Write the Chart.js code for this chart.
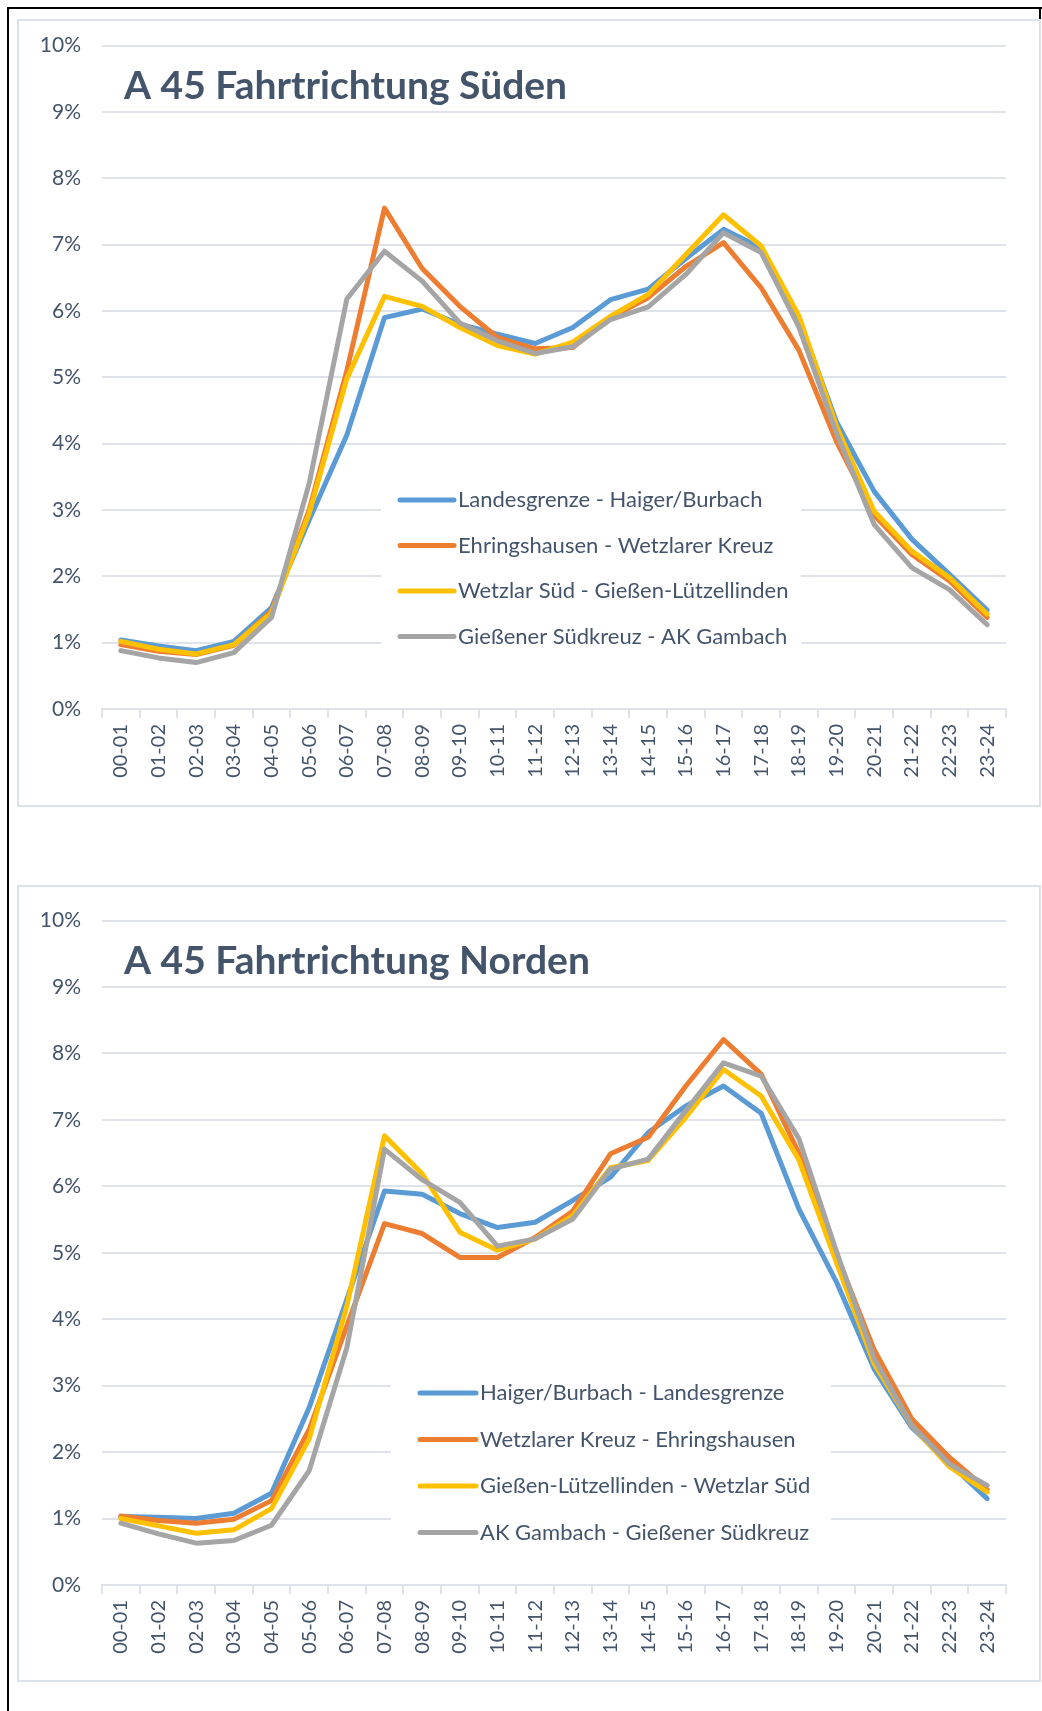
<!DOCTYPE html>
<html>
<head>
<meta charset="utf-8">
<script src="https://cdn.jsdelivr.net/npm/chart.js@4.4.0/dist/chart.umd.min.js"></script>
<style>
    body { margin: 0; background: #fff; }
    #page { position: relative; width: 1042px; height: 1711px; overflow: hidden; }
    .edge { position: absolute; background: #000; }
    .panel { position: absolute; left: 17px; width: 1020px; border: 2px solid #dde2e8; }
    .panel canvas { position: absolute; left: 0; top: 0; }
</style>
</head>
<body>
<div id="page">
    <div class="edge" style="left:7px; top:7px; width:1035px; height:2px;"></div>
    <div class="edge" style="left:7px; top:7px; width:2px; height:1704px;"></div>
    <div class="edge" style="left:1039px; top:7px; width:2px; height:120px;"></div>

    <div class="panel" style="top:19px; height:784px;"><canvas id="chartSued" width="1020" height="793" style="top:-9px;"></canvas></div>
    <div class="panel" style="top:885px; height:793px;"><canvas id="chartNord" width="1020" height="793"></canvas></div>
</div>

<script>
// Stunden-Intervalle
var categories = ["00-01", "01-02", "02-03", "03-04", "04-05", "05-06", "06-07", "07-08", "08-09", "09-10", "10-11", "11-12",
    "12-13", "13-14", "14-15", "15-16", "16-17", "17-18", "18-19", "19-20", "20-21", "21-22", "22-23", "23-24"];

var yTicks = [0, 1, 2, 3, 4, 5, 6, 7, 8, 9, 10];

// A 45 Fahrtrichtung Süden (Anteil in %)
var suedLabels = ["Landesgrenze - Haiger/Burbach", "Ehringshausen - Wetzlarer Kreuz", "Wetzlar Süd - Gießen-Lützellinden", "Gießener Südkreuz - AK Gambach"];
var suedBlue = [1.04, 0.95, 0.88, 1.02, 1.53, 2.85, 4.13, 5.90, 6.03, 5.80, 5.65, 5.51, 5.75, 6.17, 6.33, 6.79, 7.23, 6.95, 5.88, 4.33, 3.28, 2.56, 2.03, 1.49];
var suedOrange = [0.97, 0.87, 0.82, 0.96, 1.48, 3.00, 5.10, 7.55, 6.64, 6.07, 5.60, 5.43, 5.45, 5.90, 6.20, 6.67, 7.03, 6.35, 5.41, 4.03, 2.92, 2.33, 1.93, 1.38];
var suedYellow = [1.02, 0.90, 0.83, 0.97, 1.45, 2.95, 4.98, 6.22, 6.07, 5.75, 5.48, 5.35, 5.53, 5.92, 6.25, 6.85, 7.45, 6.98, 5.93, 4.26, 2.98, 2.38, 1.98, 1.43];
var suedGrey = [0.88, 0.77, 0.70, 0.85, 1.38, 3.40, 6.18, 6.90, 6.45, 5.82, 5.55, 5.36, 5.46, 5.87, 6.06, 6.55, 7.18, 6.88, 5.76, 4.16, 2.78, 2.13, 1.80, 1.27];

// A 45 Fahrtrichtung Norden (Anteil in %)
var nordLabels = ["Haiger/Burbach - Landesgrenze", "Wetzlarer Kreuz - Ehringshausen", "Gießen-Lützellinden - Wetzlar Süd", "AK Gambach - Gießener Südkreuz"];
var nordBlue = [1.03, 1.02, 1.00, 1.08, 1.38, 2.67, 4.30, 5.93, 5.88, 5.59, 5.38, 5.46, 5.79, 6.14, 6.81, 7.21, 7.51, 7.10, 5.66, 4.56, 3.25, 2.37, 1.83, 1.30];
var nordOrange = [1.04, 0.97, 0.93, 0.99, 1.27, 2.34, 3.90, 5.44, 5.29, 4.93, 4.93, 5.23, 5.63, 6.49, 6.74, 7.51, 8.21, 7.69, 6.50, 4.97, 3.54, 2.50, 1.92, 1.44];
var nordYellow = [1.00, 0.89, 0.78, 0.83, 1.15, 2.20, 4.20, 6.76, 6.19, 5.31, 5.04, 5.21, 5.56, 6.28, 6.39, 7.04, 7.76, 7.36, 6.40, 4.85, 3.33, 2.40, 1.78, 1.40];
var nordGrey = [0.93, 0.77, 0.63, 0.67, 0.90, 1.72, 3.57, 6.56, 6.10, 5.76, 5.10, 5.21, 5.51, 6.26, 6.41, 7.14, 7.86, 7.66, 6.72, 5.02, 3.41, 2.40, 1.82, 1.50];

var colors = ["#5b9bd5", "#ed7d31", "#ffc000", "#a5a5a5"];
var textColor = "#44546a";
var gridColor = "#dfe3e9";

// Titel + Legende direkt in der Zeichenfläche (wie in Excel)
var insidePlugin = {
    id: "inside",
    afterDatasetsDraw: function (chart, args, opts) {
        var ctx = chart.ctx;
        var area = chart.chartArea;
        ctx.save();

        ctx.font = "bold 39px Lato";
        ctx.fillStyle = textColor;
        ctx.textBaseline = "middle";
        ctx.fillText(opts.title, area.left + 22, area.top + 41);

        var lg = opts.legend;
        ctx.fillStyle = "#fff";
        ctx.fillRect(lg.boxX, lg.rowY - 28, lg.boxW, lg.rowGap * 3 + 56);

        ctx.font = "22px Lato";
        ctx.lineWidth = 5;
        ctx.lineCap = "round";
        chart.data.datasets.forEach(function (ds, i) {
            var y = lg.rowY + i * lg.rowGap;
            ctx.strokeStyle = ds.borderColor;
            ctx.beginPath();
            ctx.moveTo(lg.lineX, y);
            ctx.lineTo(lg.lineX + lg.lineW, y);
            ctx.stroke();
            ctx.fillStyle = textColor;
            ctx.fillText(ds.label, lg.lineX + lg.lineW + 4, y);
        });
        ctx.restore();
    }
};

function makeChart(id, title, labels, series, padTop, axisH, legend) {
    var datasets = series.map(function (values, i) {
        return {
            label: labels[i],
            data: values,
            borderColor: colors[i],
            backgroundColor: colors[i],
            borderWidth: 5,
            borderJoinStyle: "round",
            borderCapStyle: "round",
            pointRadius: 0,
            tension: 0,
            fill: false,
            order: series.length - i
        };
    });

    return new Chart(document.getElementById(id).getContext("2d"), {
        type: "line",
        data: { labels: categories, datasets: datasets },
        options: {
            responsive: false,
            animation: false,
            devicePixelRatio: 1,
            layout: { padding: { top: padTop, right: 33, left: 0, bottom: 0 } },
            plugins: {
                legend: { display: false },
                tooltip: { enabled: false },
                inside: { title: title, legend: legend }
            },
            scales: {
                x: {
                    type: "category",
                    offset: true,
                    grid: { offset: true, drawOnChartArea: false, color: gridColor, lineWidth: 2, tickLength: 9 },
                    border: { color: gridColor, width: 2 },
                    ticks: { color: textColor, font: { family: "Lato", size: 20 }, minRotation: 90, maxRotation: 90, padding: 6, autoSkip: false },
                    afterFit: function (scale) { scale.height = axisH; }
                },
                y: {
                    min: 0,
                    max: 10,
                    afterBuildTicks: function (scale) {
                        scale.ticks = yTicks.map(function (v) { return { value: v }; });
                    },
                    grid: { color: gridColor, lineWidth: 2, drawTicks: false },
                    border: { display: false },
                    ticks: {
                        color: textColor,
                        font: { family: "Lato", size: 21 },
                        padding: 21,
                        callback: function (v) { return v + "%"; }
                    },
                    afterFit: function (scale) { scale.width = 83; }
                }
            }
        },
        plugins: [insidePlugin]
    });
}

// Süden: Canvas 9px nach oben verschoben, Legende in Canvas-Koordinaten
makeChart("chartSued", "A 45 Fahrtrichtung Süden", suedLabels,
    [suedBlue, suedOrange, suedYellow, suedGrey], 24, 96,
    { boxX: 362, boxW: 420, rowY: 488, rowGap: 45.5, lineX: 381, lineW: 54 });

makeChart("chartNord", "A 45 Fahrtrichtung Norden", nordLabels,
    [nordBlue, nordOrange, nordYellow, nordGrey], 33, 95,
    { boxX: 372, boxW: 440, rowY: 506, rowGap: 46.5, lineX: 401, lineW: 56 });
</script>
</body>
</html>
